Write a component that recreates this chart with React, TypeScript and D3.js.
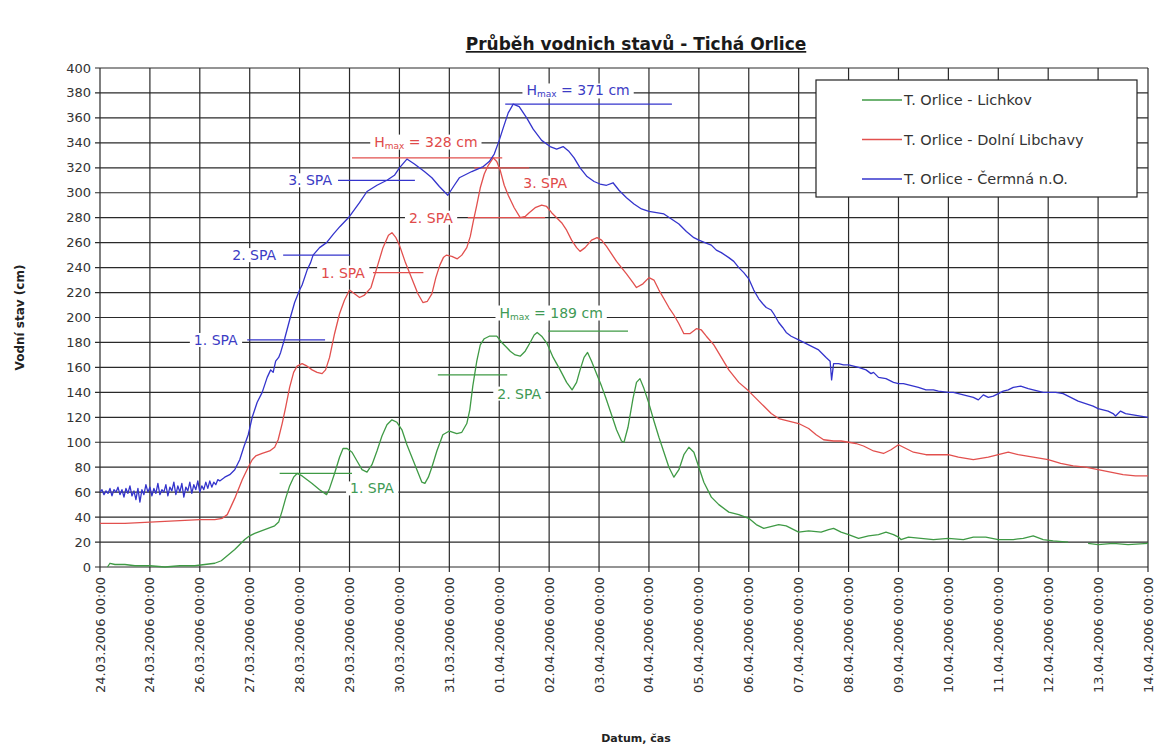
import React, { useLayoutEffect, useRef, useState } from "react";
import * as d3 from "d3";

// ---------- DATA ----------
const START = Date.UTC(2006, 2, 24);
const DAY = 864e5;

const xTickLabels = [
  "24.03.2006 00:00", "24.03.2006 00:00", "26.03.2006 00:00", "27.03.2006 00:00",
  "28.03.2006 00:00", "29.03.2006 00:00", "30.03.2006 00:00", "31.03.2006 00:00",
  "01.04.2006 00:00", "02.04.2006 00:00", "03.04.2006 00:00", "04.04.2006 00:00",
  "05.04.2006 00:00", "06.04.2006 00:00", "07.04.2006 00:00", "08.04.2006 00:00",
  "09.04.2006 00:00", "10.04.2006 00:00", "11.04.2006 00:00", "12.04.2006 00:00",
  "13.04.2006 00:00", "14.04.2006 00:00",
];
const yTickValues = [0, 20, 40, 60, 80, 100, 120, 140, 160, 180, 200, 220, 240, 260, 280, 300, 320, 340, 360, 380, 400];

const seriesNames = ["T. Orlice - Lichkov", "T. Orlice - Dolní Libchavy", "T. Orlice - Čermná n.O."];
const seriesColors = ["#3f9a45", "#e2504e", "#3434cc"];

// [day offset from 24.03.2006 00:00, water level cm]
const lichkov: [number, number | null][] = [
  [0.15, 0], [0.2, 3], [0.3, 2], [0.5, 2], [0.7, 1], [1.0, 1], [1.3, 0], [1.6, 1], [1.9, 1], [2.1, 2],
  [2.3, 3], [2.43, 5], [2.55, 9], [2.7, 14], [2.8, 18], [2.9, 22], [3.0, 25], [3.1, 27], [3.3, 30], [3.5, 33],
  [3.58, 36], [3.65, 45], [3.72, 55], [3.8, 65], [3.88, 72], [3.95, 75], [4.05, 73], [4.15, 70], [4.25, 67],
  [4.4, 62], [4.54, 58], [4.6, 63], [4.7, 75], [4.8, 88], [4.87, 95], [4.95, 95], [5.05, 92], [5.15, 85],
  [5.25, 78], [5.35, 76], [5.45, 82], [5.55, 93], [5.65, 105], [5.75, 114], [5.85, 118], [5.95, 116],
  [6.05, 110], [6.15, 98], [6.27, 86], [6.38, 75], [6.45, 68], [6.51, 67], [6.58, 72], [6.65, 80], [6.75, 93],
  [6.87, 106], [7.0, 109], [7.15, 107], [7.25, 108], [7.35, 115], [7.41, 126], [7.47, 145], [7.55, 165],
  [7.62, 178], [7.7, 183], [7.8, 185], [7.95, 185], [8.05, 180], [8.15, 176], [8.22, 173], [8.32, 170],
  [8.42, 169], [8.52, 173], [8.62, 180], [8.7, 186], [8.76, 188], [8.85, 185], [8.96, 179], [9.08, 168],
  [9.22, 158], [9.35, 148], [9.46, 142], [9.55, 148], [9.62, 158], [9.7, 168], [9.77, 172], [9.85, 165],
  [9.95, 155], [10.05, 145], [10.14, 135], [10.25, 122], [10.35, 110], [10.45, 101], [10.5, 100], [10.58, 112],
  [10.68, 135], [10.75, 148], [10.82, 151], [10.9, 143], [11.0, 131], [11.1, 117], [11.2, 104], [11.3, 92],
  [11.4, 80], [11.5, 72], [11.6, 78], [11.7, 90], [11.8, 96], [11.9, 92], [12.0, 80], [12.1, 68], [12.25, 56],
  [12.4, 50], [12.6, 44], [12.8, 42], [13.0, 39], [13.15, 34], [13.3, 31], [13.5, 33], [13.6, 34], [13.75, 33],
  [13.9, 30], [14.0, 28], [14.2, 29], [14.45, 28], [14.6, 30], [14.7, 31], [14.85, 28], [15.0, 26], [15.2, 23],
  [15.4, 25], [15.6, 26], [15.75, 28], [15.9, 26], [16.0, 24], [16.05, 22], [16.2, 24], [16.45, 23], [16.7, 22],
  [17.0, 23], [17.3, 22], [17.5, 24], [17.75, 24], [18.0, 22], [18.3, 22], [18.5, 23], [18.7, 25], [18.9, 22],
  [19.1, 21], [19.4, 20], [19.45, null], [19.8, 19], [20.0, 18], [20.3, 19], [20.6, 18], [21.0, 19],
];

const dolniLibchavy: [number, number | null][] = [
  [0, 35], [0.5, 35], [1.0, 36], [1.5, 37], [2.0, 38], [2.3, 38], [2.45, 39], [2.55, 42], [2.62, 48], [2.7, 55],
  [2.78, 63], [2.85, 70], [2.97, 80], [3.05, 86], [3.12, 89], [3.25, 91], [3.4, 93], [3.5, 96], [3.57, 102],
  [3.65, 115], [3.72, 128], [3.8, 144], [3.88, 156], [3.95, 161], [4.05, 163], [4.15, 161], [4.25, 158],
  [4.35, 156], [4.45, 155], [4.52, 158], [4.6, 168], [4.7, 187], [4.8, 203], [4.9, 214], [5.0, 222], [5.1, 219],
  [5.2, 216], [5.3, 218], [5.43, 224], [5.55, 240], [5.67, 256], [5.78, 266], [5.85, 268], [5.93, 264],
  [6.0, 258], [6.12, 244], [6.25, 231], [6.37, 219], [6.47, 212], [6.56, 213], [6.65, 219], [6.73, 232],
  [6.81, 242], [6.88, 248], [6.94, 250], [7.05, 249], [7.16, 247], [7.25, 250], [7.35, 256], [7.42, 265],
  [7.48, 277], [7.55, 290], [7.62, 304], [7.7, 315], [7.78, 322], [7.88, 328], [7.95, 325], [8.02, 318],
  [8.1, 306], [8.18, 298], [8.3, 288], [8.42, 280], [8.52, 281], [8.6, 284], [8.72, 288], [8.85, 290],
  [8.95, 289], [9.05, 284], [9.15, 280], [9.25, 276], [9.35, 270], [9.45, 262], [9.55, 256], [9.62, 253],
  [9.72, 256], [9.85, 262], [9.96, 264], [10.05, 262], [10.15, 257], [10.25, 251], [10.35, 245], [10.45, 240],
  [10.55, 235], [10.68, 228], [10.75, 224], [10.88, 227], [11.0, 232], [11.1, 230], [11.2, 222], [11.3, 215],
  [11.4, 208], [11.5, 202], [11.6, 195], [11.7, 187], [11.82, 187], [11.95, 191], [12.05, 190], [12.15, 185],
  [12.3, 178], [12.45, 168], [12.6, 158], [12.8, 148], [13.0, 141], [13.15, 135], [13.3, 129], [13.45, 123],
  [13.6, 119], [13.8, 117], [14.0, 115], [14.2, 111], [14.35, 106], [14.5, 102], [14.7, 101], [14.85, 101],
  [15.0, 100], [15.15, 99], [15.3, 97], [15.5, 93], [15.7, 91], [15.85, 94], [16.0, 98], [16.1, 96],
  [16.3, 92], [16.55, 90], [16.8, 90], [17.0, 90], [17.2, 88], [17.5, 86], [17.8, 88], [18.0, 90], [18.2, 92],
  [18.4, 90], [18.7, 88], [19.0, 86], [19.25, 83], [19.5, 81], [19.75, 80], [20.0, 78], [20.25, 76],
  [20.5, 74], [20.75, 73], [21.0, 73],
];

const cermna: [number, number | null][] = [
  [0.0, 60], [0.04, 62], [0.08, 58], [0.12, 61], [0.16, 59], [0.2, 63], [0.24, 57], [0.28, 62], [0.32, 60],
  [0.36, 64], [0.4, 58], [0.44, 62], [0.48, 56], [0.52, 63], [0.56, 59], [0.6, 65], [0.64, 57], [0.68, 61],
  [0.72, 54], [0.76, 63], [0.8, 52], [0.84, 62], [0.88, 58], [0.92, 66], [0.96, 60], [1.0, 64], [1.04, 57],
  [1.08, 63], [1.12, 59], [1.16, 67], [1.2, 58], [1.24, 62], [1.28, 60], [1.32, 66], [1.36, 57], [1.4, 64],
  [1.44, 61], [1.48, 68], [1.52, 58], [1.56, 65], [1.6, 60], [1.64, 67], [1.68, 56], [1.72, 64], [1.76, 61],
  [1.8, 68], [1.84, 59], [1.88, 66], [1.92, 62], [1.96, 69], [2.0, 60], [2.04, 65], [2.08, 62], [2.12, 68],
  [2.16, 63], [2.2, 69], [2.24, 64], [2.28, 68], [2.32, 66], [2.36, 70], [2.4, 69], [2.5, 72], [2.6, 74],
  [2.7, 78], [2.8, 86], [2.88, 96], [2.97, 106], [3.05, 120], [3.15, 132], [3.25, 140], [3.35, 152],
  [3.42, 158], [3.47, 156], [3.52, 165], [3.58, 168], [3.62, 172], [3.7, 183], [3.8, 198], [3.9, 212],
  [4.0, 222], [4.05, 226], [4.15, 238], [4.22, 244], [4.27, 250], [4.4, 256], [4.54, 260], [4.68, 267],
  [4.81, 273], [5.0, 281], [5.2, 292], [5.35, 301], [5.55, 306], [5.75, 310], [5.9, 314], [6.0, 320],
  [6.15, 327], [6.3, 323], [6.5, 317], [6.65, 312], [6.8, 305], [6.97, 298], [7.1, 306], [7.2, 312],
  [7.45, 317], [7.68, 321], [7.8, 325], [7.9, 331], [8.0, 342], [8.08, 352], [8.18, 364], [8.28, 371],
  [8.4, 369], [8.55, 360], [8.68, 351], [8.85, 342], [9.02, 337], [9.15, 335], [9.28, 337], [9.4, 333],
  [9.5, 328], [9.62, 320], [9.76, 313], [9.9, 309], [10.02, 307], [10.15, 306], [10.28, 308], [10.4, 302],
  [10.55, 296], [10.7, 291], [10.85, 287], [11.0, 285], [11.15, 284], [11.3, 283], [11.45, 279], [11.6, 275],
  [11.75, 269], [11.9, 264], [12.0, 262], [12.12, 260], [12.25, 258], [12.35, 254], [12.45, 252], [12.6, 248],
  [12.7, 245], [12.8, 240], [12.9, 236], [13.0, 231], [13.1, 222], [13.2, 215], [13.28, 211], [13.35, 208],
  [13.45, 206], [13.5, 203], [13.6, 196], [13.68, 192], [13.75, 188], [13.85, 185], [14.0, 182], [14.1, 180],
  [14.2, 178], [14.3, 176], [14.4, 174], [14.5, 170], [14.55, 168], [14.63, 165], [14.66, 150], [14.7, 163],
  [14.8, 163], [14.9, 162], [15.0, 162], [15.1, 161], [15.2, 160], [15.35, 158], [15.45, 155], [15.5, 156],
  [15.6, 152], [15.75, 151], [15.9, 148], [16.0, 147], [16.1, 147], [16.2, 146], [16.3, 145], [16.4, 144],
  [16.55, 142], [16.7, 142], [16.8, 141], [17.0, 140], [17.1, 140], [17.2, 139], [17.3, 138], [17.4, 137],
  [17.5, 136], [17.6, 134], [17.7, 138], [17.8, 136], [17.9, 137], [18.0, 139], [18.1, 141], [18.2, 142],
  [18.3, 144], [18.45, 145], [18.6, 143], [18.7, 142], [18.8, 141], [18.9, 140], [19.0, 140], [19.15, 140],
  [19.3, 139], [19.4, 137], [19.5, 135], [19.6, 133], [19.75, 131], [19.9, 129], [20.0, 127], [20.1, 126],
  [20.2, 125], [20.3, 123], [20.35, 121], [20.45, 125], [20.55, 123], [20.7, 122], [20.85, 121], [21.0, 120],
];

const seriesData = [lichkov, dolniLibchavy, cermna];

// annotation levels: series index, kind, level value, line start/end (days), label anchor (day, value)
const annotations = [
  { s: 2, kind: "max", level: 371, from: 8.12, to: 11.46, tDay: 9.58, tVal: 382 },
  { s: 2, kind: "3. SPA", level: 310, from: 4.77, to: 6.31, tDay: 4.21, tVal: 310 },
  { s: 2, kind: "2. SPA", level: 250, from: 3.67, to: 5.01, tDay: 3.09, tVal: 250 },
  { s: 2, kind: "1. SPA", level: 182, from: 2.95, to: 4.51, tDay: 2.32, tVal: 182 },
  { s: 1, kind: "max", level: 328, from: 5.05, to: 8.06, tDay: 6.53, tVal: 341 },
  { s: 1, kind: "3. SPA", level: 320, from: 7.5, to: 8.6, tDay: 8.92, tVal: 308 },
  { s: 1, kind: "2. SPA", level: 280, from: 7.37, to: 8.92, tDay: 6.63, tVal: 280 },
  { s: 1, kind: "1. SPA", level: 236, from: 5.47, to: 6.48, tDay: 4.87, tVal: 236 },
  { s: 0, kind: "max", level: 189, from: 8.98, to: 10.58, tDay: 9.04, tVal: 204 },
  { s: 0, kind: "2. SPA", level: 154, from: 6.77, to: 8.16, tDay: 8.4, tVal: 139 },
  { s: 0, kind: "1. SPA", level: 75, from: 3.6, to: 5.05, tDay: 5.45, tVal: 63 },
];
const annotationTextColors = ["#3f9a55", "#e04a4a", "#3c3cc4"];

// ---------- LAYOUT ----------
const W = 1156, H = 752;
const PL = 100, PR = 1148, PT = 68, PB = 567;
const FONT = "'DejaVu Sans', Verdana, sans-serif";

const toDate = (d: number) => new Date(START + d * DAY);

function BgText(props: { x: number; y: number; color: string; kind: string; level: number }) {
  const ref = useRef<SVGTextElement>(null);
  const [bb, setBb] = useState<{ x: number; y: number; w: number; h: number } | null>(null);
  useLayoutEffect(() => {
    if (ref.current) {
      const b = ref.current.getBBox();
      setBb({ x: b.x, y: b.y, w: b.width, h: b.height });
    }
  }, [props.x, props.y, props.kind]);
  const { x, y, color, kind, level } = props;
  return (
    <g>
      {bb && <rect x={bb.x - 4} y={bb.y + 1} width={bb.w + 8} height={bb.h - 2} fill="#fff" />}
      <text ref={ref} x={x} y={y} textAnchor="middle" dominantBaseline="central" fill={color}
        fontFamily={FONT} fontSize={14}>
        {kind === "max" ? (
          <>
            H<tspan fontSize={9} dy={4}>max</tspan>
            <tspan dy={-4}>{` = ${level} cm`}</tspan>
          </>
        ) : kind}
      </text>
    </g>
  );
}

export default function App() {
  const x = d3.scaleTime().domain([toDate(0), toDate(21)]).range([PL, PR]);
  const y = d3.scaleLinear().domain([0, 400]).range([PB, PT]);
  const line = d3.line<[number, number | null]>()
    .defined((d) => d[1] !== null)
    .x((d) => x(toDate(d[0])))
    .y((d) => y(d[1] as number));

  const dayTicks = xTickLabels.map((_, i) => toDate(i));
  const gridColor = "#2a2a2a";

  return (
    <svg width={W} height={H} style={{ position: "absolute", left: 0, top: 0, background: "#fff" }}>
      <rect x={0} y={0} width={W} height={H} fill="#fff" />
      {/* title */}
      <text x={636} y={50} textAnchor="middle" fontFamily={FONT} fontWeight="bold" fontSize={17}
        fill="#1a1a1a" textDecoration="underline">
        Průběh vodnich stavů - Tichá Orlice
      </text>

      {/* grid */}
      <g stroke={gridColor} strokeWidth={1.2}>
        {yTickValues.map((v) => (
          <line key={"h" + v} x1={PL - 5} x2={PR} y1={y(v)} y2={y(v)} />
        ))}
        {dayTicks.map((d, i) => (
          <line key={"v" + i} x1={x(d)} x2={x(d)} y1={PT} y2={PB + 5} />
        ))}
      </g>

      {/* y tick labels */}
      {yTickValues.map((v) => (
        <text key={"yl" + v} x={PL - 9} y={y(v)} textAnchor="end" dominantBaseline="central"
          fontFamily={FONT} fontSize={13} fill="#333">{v}</text>
      ))}
      {/* x tick labels */}
      {dayTicks.map((d, i) => (
        <text key={"xl" + i} transform={`translate(${x(d)},${PB + 10}) rotate(-90)`} textAnchor="end"
          dominantBaseline="central" fontFamily={FONT} fontSize={13} fill="#333">{xTickLabels[i]}</text>
      ))}

      {/* axis titles */}
      <text transform={`translate(20,${(PT + PB) / 2}) rotate(-90)`} textAnchor="middle" dominantBaseline="central"
        fontFamily={FONT} fontWeight="bold" fontSize={12} fill="#222">Vodní stav (cm)</text>
      <text x={636} y={738} textAnchor="middle" dominantBaseline="central" fontFamily={FONT} fontWeight="bold"
        fontSize={11} fill="#222">Datum, čas</text>

      {/* annotation lines */}
      {annotations.map((a, i) => (
        <line key={"al" + i} x1={x(toDate(a.from))} x2={x(toDate(a.to))} y1={y(a.level)} y2={y(a.level)}
          stroke={seriesColors[a.s]} strokeWidth={1.3} />
      ))}

      {/* series */}
      {seriesData.map((s, i) => (
        <path key={"s" + i} d={line(s) || ""} fill="none" stroke={seriesColors[i]} strokeWidth={1.3}
          strokeLinejoin="round" />
      ))}

      {/* annotation labels */}
      {annotations.map((a, i) => (
        <BgText key={"at" + i} x={x(toDate(a.tDay))} y={y(a.tVal)} color={annotationTextColors[a.s]}
          kind={a.kind} level={a.level} />
      ))}

      {/* legend */}
      <g>
        <rect x={816} y={80} width={321} height={117} fill="#fff" stroke="#222" strokeWidth={1.2} />
        {seriesNames.map((n, i) => (
          <g key={"lg" + i} transform={`translate(862,${100 + i * 39.5})`}>
            <line x1={0} x2={40} y1={0} y2={0} stroke={seriesColors[i]} strokeWidth={1.3} />
            <text x={42} y={0} dominantBaseline="central" fontFamily={FONT} fontSize={14.5} fill="#333">{n}</text>
          </g>
        ))}
      </g>
    </svg>
  );
}
